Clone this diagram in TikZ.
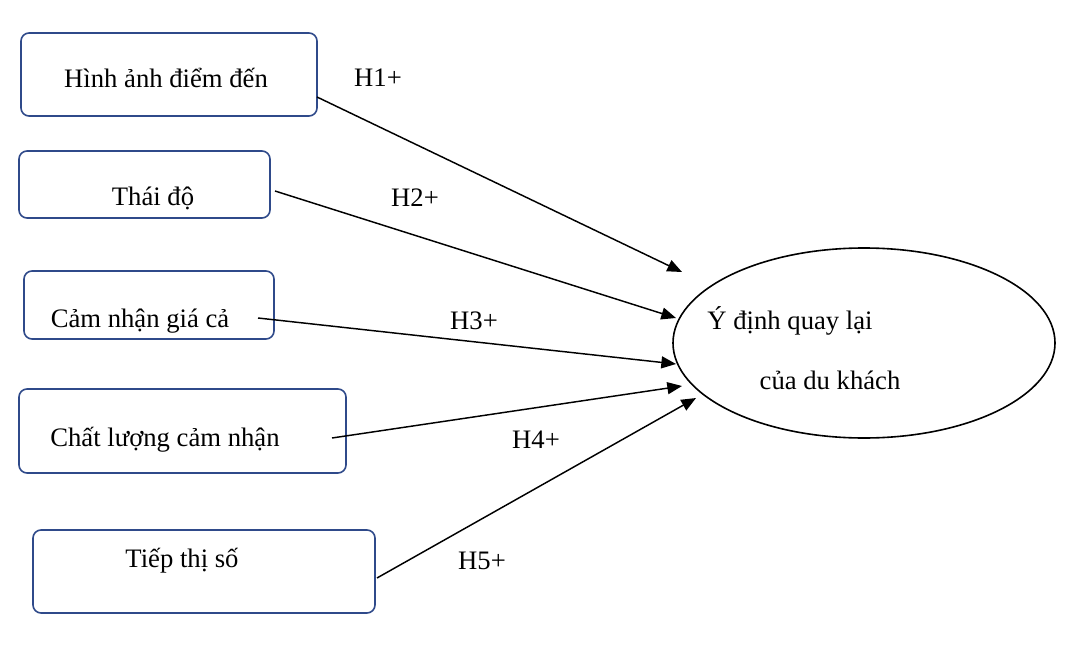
\documentclass[tikz,border=0pt]{standalone}
\usepackage{fontspec}
\setmainfont{Liberation Serif}
\usetikzlibrary{arrows.meta,shapes.geometric}
\definecolor{bx}{HTML}{2F4A8A}
\tikzset{
 box/.style={draw=bx,line width=1.2pt,rounded corners=6pt,inner sep=0pt},
 txt/.style={font=\fontsize{20pt}{24pt}\selectfont,inner sep=0pt},
 arr/.style={line width=1.1pt,-{Triangle[length=11pt,width=9pt]}}
}
\begin{document}
\begin{tikzpicture}[x=0.75pt,y=-0.75pt]
\useasboundingbox (0,0) rectangle (1078,653);
\node[box,minimum width=296*0.75pt,minimum height=83*0.75pt] (b1) at (169,74.5) {};
\node[box,minimum width=251*0.75pt,minimum height=67*0.75pt] (b2) at (144.5,184.5) {};
\node[box,minimum width=250*0.75pt,minimum height=68*0.75pt] (b3) at (149,305) {};
\node[box,minimum width=327*0.75pt,minimum height=84*0.75pt] (b4) at (182.5,431) {};
\node[box,minimum width=342*0.75pt,minimum height=83*0.75pt] (b5) at (204,571.5) {};
\node[draw,line width=1.2pt,ellipse,minimum width=382*0.75pt,minimum height=190*0.75pt,inner sep=0pt] (e) at (864,343) {};
\node[txt] (t1) at (166,78) {Hình ảnh điểm đến};
\node[txt] (t2) at (153,198) {Thái độ};
\node[txt] (t3) at (140,321) {Cảm nhận giá cả};
\node[txt] (t4) at (165,440) {Chất lượng cảm nhận};
\node[txt] (t5) at (182,561) {Tiếp thị số};
\node[txt] (e1) at (790,321) {Ý định quay lại};
\node[txt] (e2) at (830,380) {của du khách};
\node[txt] (h1) at (378,78) {H1+};
\node[txt] (h2) at (415,198) {H2+};
\node[txt] (h3) at (474,321) {H3+};
\node[txt] (h4) at (536,440) {H4+};
\node[txt] (h5) at (482,561) {H5+};
\coordinate (s1) at (317,97); \coordinate (d1) at (682,272);
\coordinate (s2) at (275,191); \coordinate (d2) at (676,318);
\coordinate (s3) at (258,318); \coordinate (d3) at (676,364);
\coordinate (s4) at (332,438); \coordinate (d4) at (682,386);
\coordinate (s5) at (377,578); \coordinate (d5) at (696,398);
\draw[arr] (s1) -- (d1);
\draw[arr] (s2) -- (d2);
\draw[arr] (s3) -- (d3);
\draw[arr] (s4) -- (d4);
\draw[arr] (s5) -- (d5);
\end{tikzpicture}
\end{document}
